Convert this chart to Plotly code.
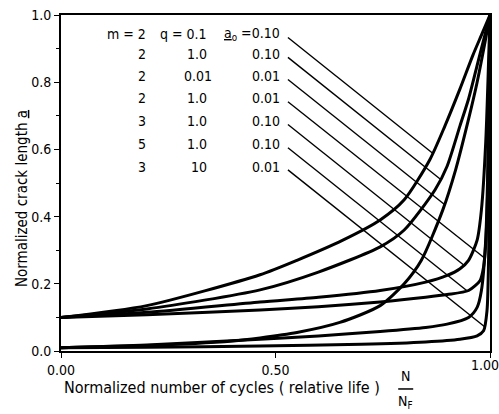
import numpy as np
import plotly.graph_objects as go

# ---- data ----
m_vals = ["2", "2", "2", "2", "3", "5", "3"]
q_vals = ["0.1", "1.0", "0.01", "1.0", "1.0", "1.0", "10"]
a0_vals = ["0.10", "0.10", "0.01", "0.01", "0.10", "0.10", "0.01"]

# curve 1: m=2 q=0.1 a0=0.10
n1 = [0, 0.2, 0.464, 0.55, 0.657, 0.744, 0.8, 0.86, 0.895, 0.93, 0.96, 0.98, 1.0]
a1 = [0.10, 0.135, 0.227, 0.27, 0.33, 0.39, 0.45, 0.57, 0.67, 0.78, 0.88, 0.94, 1.0]
# curve 2: m=2 q=1.0 a0=0.10
n2 = [0, 0.2, 0.464, 0.6, 0.744, 0.8, 0.872, 0.9, 0.93, 0.95, 0.97, 0.99, 1.0]
a2 = [0.10, 0.125, 0.182, 0.235, 0.31, 0.36, 0.48, 0.55, 0.67, 0.75, 0.85, 0.95, 1.0]
# curve 3: m=2 q=0.01 a0=0.01
n3 = [0, 0.2, 0.4, 0.464, 0.55, 0.65, 0.744, 0.8, 0.84, 0.89, 0.92, 0.95, 0.97, 0.99, 1.0]
a3 = [0.01, 0.016, 0.03, 0.039, 0.055, 0.085, 0.135, 0.2, 0.27, 0.42, 0.54, 0.69, 0.8, 0.93, 1.0]
# curve 4: m=2 q=1.0 a0=0.01
n4 = [0, 0.2, 0.464, 0.6, 0.744, 0.85, 0.9, 0.95, 0.97, 0.98, 0.99, 0.995, 1.0]
a4 = [0.01, 0.018, 0.035, 0.045, 0.058, 0.07, 0.08, 0.10, 0.13, 0.18, 0.33, 0.55, 1.0]
# curve 5: m=3 q=1.0 a0=0.10
n5 = [0, 0.2, 0.464, 0.6, 0.744, 0.85, 0.9, 0.93, 0.95, 0.97, 0.98, 0.99, 1.0]
a5 = [0.10, 0.115, 0.146, 0.16, 0.18, 0.205, 0.225, 0.245, 0.27, 0.33, 0.42, 0.62, 1.0]
# curve 6: m=5 q=1.0 a0=0.10
n6 = [0, 0.2, 0.464, 0.6, 0.744, 0.85, 0.9, 0.95, 0.977, 0.985, 0.99, 0.995, 1.0]
a6 = [0.10, 0.108, 0.122, 0.132, 0.146, 0.16, 0.168, 0.18, 0.21, 0.25, 0.32, 0.50, 1.0]
# curve 7: m=3 q=10 a0=0.01
n7 = [0, 0.2, 0.464, 0.7, 0.85, 0.93, 0.97, 0.985, 0.993, 0.997, 1.0]
a7 = [0.01, 0.011, 0.015, 0.02, 0.027, 0.035, 0.045, 0.06, 0.12, 0.30, 1.0]

curves = [(n1, a1), (n2, a2), (n3, a3), (n4, a4), (n5, a5), (n6, a6), (n7, a7)]

x_ticks = [0, 0.5, 1.0]
x_tick_text = ["0.00", "0.50", ""]
last_x_label = "1.00"
y_ticks = [0, 0.2, 0.4, 0.6, 0.8, 1.0]
y_tick_text = ["0.0", "0.2", "0.4", "0.6", "0.8", "1.0"]

FONT = "DejaVu Sans Condensed, Liberation Sans Narrow, DejaVu Sans"
FS = 14

fig = go.Figure()
for n, a in curves:
    fig.add_trace(go.Scatter(x=n, y=a, mode="lines",
                             line=dict(color="black", width=3, shape="spline", smoothing=0.7),
                             hoverinfo="skip", showlegend=False))

# legend table rows
row_y = [0.943, 0.884, 0.818, 0.752, 0.684, 0.615, 0.549]
start_x = 0.529
leader_slope = 0.8 * 429 / 336
dense = np.linspace(0, 1, 4001)
for i in range(7):
    lbl_m = ("m = " if i == 0 else "") + m_vals[i]
    lbl_q = ("q = " if i == 0 else "") + q_vals[i]
    lbl_a = ("<u>a</u><sub>o</sub> =" if i == 0 else "") + a0_vals[i]
    fig.add_annotation(x=0.203, y=row_y[i], text=lbl_m, showarrow=False, xanchor="right", yanchor="middle",
                       font=dict(family=FONT, size=FS, color="black"))
    fig.add_annotation(x=0.345 if i != 2 else 0.357, y=row_y[i], text=lbl_q, showarrow=False, xanchor="right",
                       yanchor="middle", font=dict(family=FONT, size=FS, color="black"))
    fig.add_annotation(x=0.515, y=row_y[i], text=lbl_a, showarrow=False, xanchor="right", yanchor="middle",
                       font=dict(family=FONT, size=FS, color="black"))
    n, a = curves[i]
    ad = np.interp(dense, n, a)
    line_a = row_y[i] - 0.01 - leader_slope * (dense - start_x)
    hit = np.where((dense > start_x) & (ad >= line_a))[0]
    j = hit[0] if len(hit) else len(dense) - 1
    fig.add_trace(go.Scatter(x=[start_x, dense[j]], y=[row_y[i] - 0.01, ad[j]], mode="lines",
                             line=dict(color="black", width=1.4), hoverinfo="skip", showlegend=False))

# last x tick label, nudged inward so it stays inside the picture
fig.add_annotation(x=x_ticks[-1], y=0, yref="paper", yanchor="top", yshift=-4, xshift=-5,
                   text=last_x_label, showarrow=False, font=dict(family=FONT, size=FS, color="black"))

# axis titles
fig.add_annotation(x=0.375, xref="paper", y=-0.11, yref="paper", xanchor="center", yanchor="middle",
                   text="Normalized number of cycles ( relative life )", showarrow=False,
                   font=dict(family=FONT, size=16, color="black"))
fig.add_annotation(x=0.803, xref="paper", y=-0.074, yref="paper", xanchor="center", yanchor="middle", text="N",
                   showarrow=False, font=dict(family=FONT, size=FS, color="black"))
fig.add_annotation(x=0.803, xref="paper", y=-0.152, yref="paper", xanchor="center", yanchor="middle",
                   text="N<sub>F</sub>", showarrow=False, font=dict(family=FONT, size=FS, color="black"))
fig.add_shape(type="line", xref="paper", yref="paper", x0=0.786, x1=0.821, y0=-0.113, y1=-0.113,
              line=dict(color="black", width=1.5))
fig.add_annotation(x=-0.091, xref="paper", y=0.455, yref="paper", xanchor="center", yanchor="middle",
                   textangle=-90, text="Normalized crack length <u>a</u>", showarrow=False,
                   font=dict(family=FONT, size=15, color="black"))

fig.update_layout(
    width=499, height=414,
    margin=dict(l=61, r=9, t=15, b=63, autoexpand=False),
    paper_bgcolor="white", plot_bgcolor="white",
    font=dict(family=FONT, size=FS, color="black"),
    xaxis=dict(range=[0, 1.0], tickvals=x_ticks, ticktext=x_tick_text, ticks="outside", ticklen=5,
               tickcolor="black", showline=True, linecolor="black", linewidth=2, mirror=True,
               showgrid=False, zeroline=False, automargin=False,
               tickfont=dict(family=FONT, size=FS)),
    yaxis=dict(range=[0, 1.0], tickvals=y_ticks, ticktext=y_tick_text, ticks="outside", ticklen=5,
               tickcolor="black", showline=True, linecolor="black", linewidth=2, mirror=True,
               showgrid=False, zeroline=False, ticklabeloverflow="allow", automargin=False,
               tickfont=dict(family=FONT, size=FS),
               minor=dict(dtick=0.1, ticks="outside", ticklen=3, tickcolor="black")),
)
fig.write_html("out.html", config={"displayModeBar": False},
               post_script="document.body.style.margin='0px';")
